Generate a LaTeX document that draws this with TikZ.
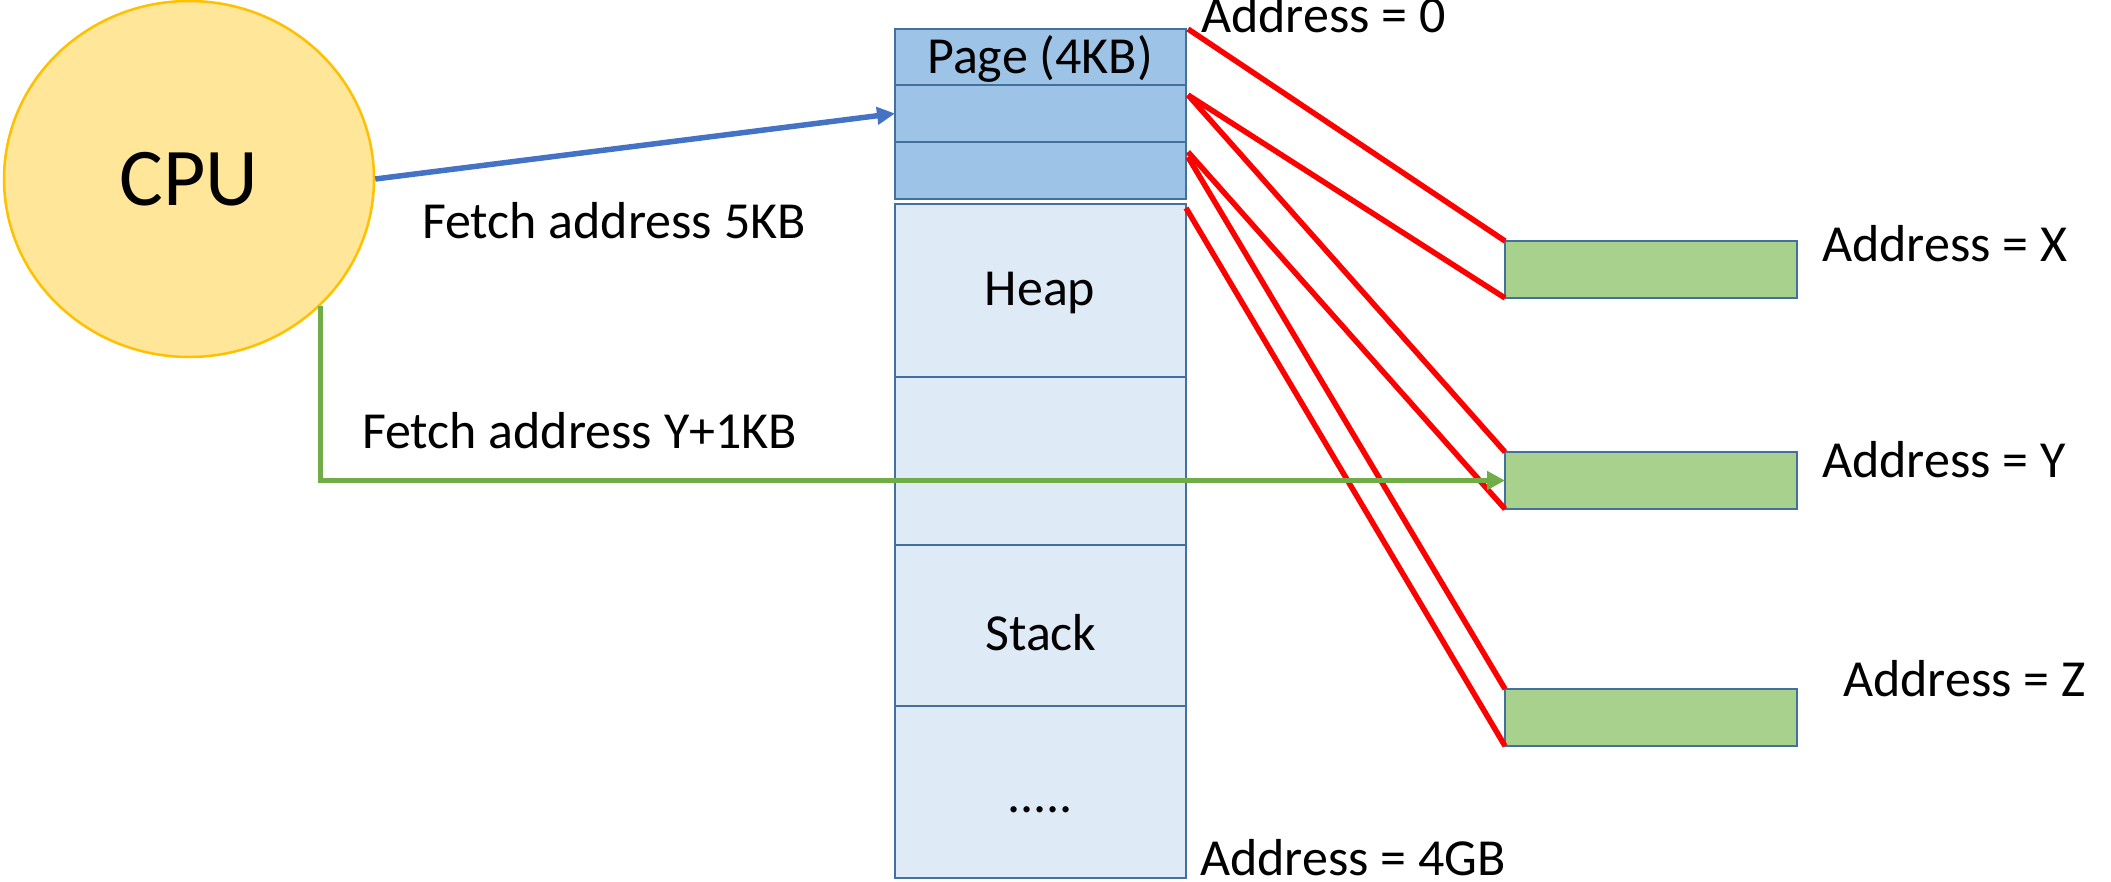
\documentclass[tikz,border=0pt]{standalone}
\usepackage{fontspec}
\setmainfont{Carlito}
\usetikzlibrary{shapes.geometric,arrows.meta}
\definecolor{cpufill}{HTML}{FFE699}
\definecolor{cpuline}{HTML}{FFC000}
\definecolor{pagefill}{HTML}{9DC3E6}
\definecolor{memfill}{HTML}{DEEBF7}
\definecolor{boxline}{HTML}{41719C}
\definecolor{greenfill}{HTML}{A9D18E}
\definecolor{bluearrow}{HTML}{4472C4}
\definecolor{greenarrow}{HTML}{70AD47}
\tikzset{
  memrow/.style={draw=boxline, line width=2.5pt, anchor=north west, minimum width=291pt, inner sep=0pt, outer sep=0pt},
  pagerow/.style={memrow, fill=pagefill},
  heaprow/.style={memrow, fill=memfill},
  physbox/.style={draw=boxline, line width=2.5pt, fill=greenfill, anchor=north west, minimum width=292pt, minimum height=57pt, inner sep=0pt, outer sep=0pt},
  lbl/.style={font=\fontsize{52}{60}\selectfont, inner sep=0pt},
  mapline/.style={draw=red, line width=5.5pt},
}
\begin{document}
\begin{tikzpicture}[x=1pt, y=-1pt]
\useasboundingbox (0,0) rectangle (2111,881);
% CPU
\node[ellipse, draw=cpuline, line width=2.5pt, fill=cpufill, minimum width=370pt, minimum height=356pt, inner sep=0pt, font=\fontsize{82}{90}\selectfont] (cpu) at (189,179) {CPU};
% memory column
\node[pagerow, minimum height=56pt] (p1) at (895,29) {};
\node[pagerow, minimum height=57pt] (p2) at (895,85) {};
\node[pagerow, minimum height=57pt] (p3) at (895,142) {};
\node[heaprow, minimum height=173pt] (heap) at (895,204) {};
\node[heaprow, minimum height=168pt] (r5) at (895,377) {};
\node[heaprow, minimum height=161pt] (stack) at (895,545) {};
\node[heaprow, minimum height=172pt] (dots) at (895,706) {};
\node[lbl, anchor=base] (tpage) at (1040,73) {Page (4KB)};
\node[lbl, anchor=base] (theap) at (1040,305) {Heap};
\node[lbl, anchor=base] (tstack) at (1041,650) {Stack};
\node[lbl, anchor=base] (tdots) at (1040,812) {.....};
% physical frames
\node[physbox] (gx) at (1505,241) {};
\node[physbox] (gy) at (1505,452) {};
\node[physbox] (gz) at (1505,689) {};
% labels
\node[lbl, anchor=base west] (a0) at (1201,32) {Address = 0};
\node[lbl, anchor=base west] (a4) at (1200,875) {Address = 4GB};
\node[lbl, anchor=base west] (ax) at (1822,261) {Address = X};
\node[lbl, anchor=base west] (ay) at (1822,477) {Address = Y};
\node[lbl, anchor=base west] (az) at (1843,696) {Address = Z};
\node[lbl, anchor=base west] (f1) at (422,238) {Fetch address 5KB};
\node[lbl, anchor=base west] (f2) at (362,448) {Fetch address Y+1KB};
% mapping lines
\coordinate (s1) at (1188,29);
\coordinate (s2) at (1188,95);
\coordinate (s3) at (1188,152);
\coordinate (s4) at (1188,157);
\coordinate (s5) at (1186,208);
\draw[mapline] (s1) -- (gx.north west);
\draw[mapline] (s2) -- (gx.south west);
\draw[mapline] (s2) -- (gy.north west);
\draw[mapline] (s3) -- (gy.south west);
\draw[mapline] (s4) -- (gz.north west);
\draw[mapline] (s5) -- (gz.south west);
% fetch arrows
\draw[draw=bluearrow, line width=5.5pt, -{Triangle[length=18pt,width=17pt]}] (cpu.east) -- (p2.west);
\draw[draw=greenarrow, line width=5pt, -{Triangle[length=18pt,width=18pt]}] (cpu.-44.2) |- (gy.west);
\end{tikzpicture}
\end{document}
